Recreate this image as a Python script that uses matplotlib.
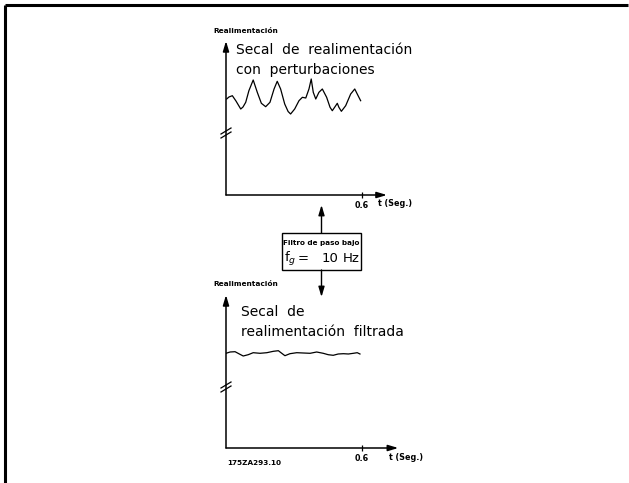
import matplotlib
matplotlib.use("Agg")
import matplotlib.pyplot as plt

# ---- data ----
t_noisy = [0.003, 0.013, 0.028, 0.044, 0.065, 0.075, 0.087, 0.101, 0.120, 0.138,
           0.156, 0.175, 0.194, 0.212, 0.226, 0.241, 0.259, 0.274, 0.285, 0.303,
           0.322, 0.337, 0.352, 0.366, 0.376, 0.385, 0.396, 0.410, 0.425, 0.444,
           0.459, 0.469, 0.484, 0.491, 0.498, 0.509, 0.528, 0.550, 0.568, 0.579,
           0.594]
v_noisy = [9.6, 9.8, 9.93, 9.4, 8.6, 8.8, 9.27, 10.43, 11.5, 10.27,
           9.17, 8.83, 9.27, 10.6, 11.37, 10.6, 9.1, 8.35, 8.1, 8.6,
           9.43, 9.77, 9.7, 10.6, 11.6, 10.27, 9.6, 10.27, 10.6, 9.77,
           8.77, 8.43, 8.93, 9.17, 8.77, 8.37, 8.93, 10.1, 10.6, 10.1,
           9.43]

t_filt = [0.0, 0.018, 0.040, 0.059, 0.076, 0.098, 0.120, 0.150, 0.180, 0.209,
          0.231, 0.246, 0.260, 0.282, 0.312, 0.341, 0.371, 0.400, 0.429, 0.451,
          0.473, 0.495, 0.518, 0.540, 0.562, 0.579, 0.591]
v_filt = [9.47, 9.6, 9.63, 9.4, 9.2, 9.33, 9.53, 9.47, 9.53, 9.67,
          9.73, 9.47, 9.23, 9.43, 9.53, 9.5, 9.47, 9.6, 9.47, 9.33,
          9.27, 9.4, 9.43, 9.4, 9.47, 9.53, 9.4]

x_ticks = [0.6]
x_tick_labels = ["0.6"]
y_label = "Realimentación"
x_label = "t (Seg.)"
top_title1 = "Secal  de  realimentación"
top_title2 = "con  perturbaciones"
bot_title1 = "Secal  de"
bot_title2 = "realimentación  filtrada"
filter_line1 = "Filtro de paso bajo"
filter_parts = ["f$_g$", "=", "10", "Hz"]
code = "175ZA293.10"

W, H = 629, 483
fig = plt.figure(figsize=(W / 100, H / 100), dpi=100)

# overlay in pixel coordinates
ov = fig.add_axes([0, 0, 1, 1])
ov.set_xlim(0, W)
ov.set_ylim(H, 0)
ov.axis("off")

# frame (top and left)
ov.plot([5, 628], [5, 5], color="black", lw=2.2, solid_capstyle="butt")
ov.plot([5, 5], [5, H], color="black", lw=2.2, solid_capstyle="butt")

PX_PER_T = 136 / 0.6  # pixels per second
PX_PER_V = 10.0


def make_chart(x0_px, y0_px, xmax, ymax):
    left = x0_px / W
    bottom = (H - y0_px) / H
    ax = fig.add_axes([left, bottom, xmax * PX_PER_T / W, ymax * PX_PER_V / H])
    ax.set_xlim(0, xmax)
    ax.set_ylim(0, ymax)
    ax.patch.set_alpha(0)
    for s in ax.spines.values():
        s.set_visible(False)
    ax.set_yticks([])
    ax.set_xticks(x_ticks)
    ax.set_xticklabels(x_tick_labels, fontsize=5.8, fontweight="bold")
    ax.tick_params(axis="x", direction="inout", length=5, width=0.9, pad=2)
    arrow = dict(arrowstyle="-|>,head_width=0.18,head_length=0.6",
                 lw=1.1, color="black", shrinkA=0, shrinkB=0)
    ax.annotate("", xy=(0, ymax), xytext=(0, 0), arrowprops=arrow)
    ax.annotate("", xy=(xmax, 0), xytext=(0, 0), arrowprops=arrow)
    return ax


# top chart
ax1 = make_chart(226, 195, 0.71, 15.4)
ax1.plot(t_noisy, v_noisy, color="black", lw=0.9, solid_joinstyle="round")
# bottom chart
ax2 = make_chart(226, 448, 0.76, 15.3)
ax2.plot(t_filt, v_filt, color="black", lw=0.9, solid_joinstyle="round")

# axis break marks
for yb in (133, 387):
    for dy in (-2, 2):
        ov.plot([221, 231], [yb + dy + 3, yb + dy - 3], color="black", lw=0.9)

# labels
ov.text(213, 31, y_label, fontsize=5.3, fontweight="bold", va="center", ha="left")
ov.text(213, 284, y_label, fontsize=5.3, fontweight="bold", va="center", ha="left")
ov.text(378, 204, x_label, fontsize=5.8, fontweight="bold", va="center", ha="left")
ov.text(389, 457, x_label, fontsize=5.8, fontweight="bold", va="center", ha="left")
ov.text(227, 463, code, fontsize=5.2, fontweight="bold", va="center", ha="left")

ov.text(236, 50, top_title1, fontsize=10, va="center", ha="left")
ov.text(236, 70, top_title2, fontsize=10, va="center", ha="left")
ov.text(241, 312, bot_title1, fontsize=10, va="center", ha="left")
ov.text(241, 332, bot_title2, fontsize=10, va="center", ha="left")

# filter box
ov.add_patch(plt.Rectangle((281.5, 233), 79.5, 37, fill=False, lw=1.0, color="black"))
ov.text(321, 243.5, filter_line1, fontsize=5.2, fontweight="bold", va="center", ha="center")
for txt, xp in zip(filter_parts, [284, 297.5, 321.5, 342.5]):
    ov.text(xp, 259, txt, fontsize=9.5, va="center", ha="left")

# arrows
arrow = dict(arrowstyle="-|>,head_width=0.18,head_length=0.6",
             lw=1.0, color="black", shrinkA=0, shrinkB=0)
ov.annotate("", xy=(321.5, 205), xytext=(321.5, 233), arrowprops=arrow)
ov.annotate("", xy=(321.5, 297), xytext=(321.5, 270), arrowprops=arrow)

fig.savefig("out.png", dpi=100)
